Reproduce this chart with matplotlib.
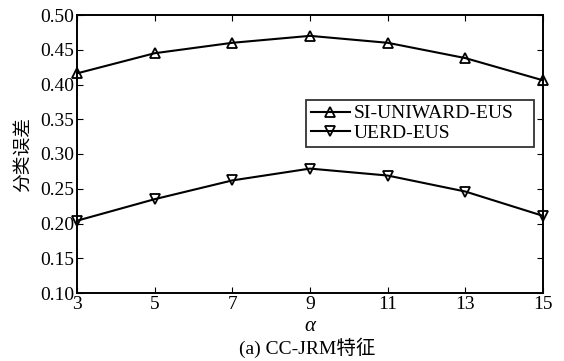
import matplotlib
matplotlib.use("Agg")
import matplotlib.pyplot as plt

# 嵌入率参数 alpha 与两种方法的分类误差
alpha = [3, 5, 7, 9, 11, 13, 15]
si_uniward_eus = [0.416, 0.445, 0.460, 0.470, 0.460, 0.438, 0.406]
uerd_eus = [0.204, 0.235, 0.262, 0.279, 0.269, 0.246, 0.211]
yticks = [0.10, 0.15, 0.20, 0.25, 0.30, 0.35, 0.40, 0.45, 0.50]

plt.rcParams["font.family"] = ["Liberation Serif", "Noto Sans CJK SC"]
plt.rcParams["axes.unicode_minus"] = False

fig = plt.figure(figsize=(5.64, 3.61), dpi=100)
ax = fig.add_axes([77 / 564, 1 - 293 / 361, (543 - 77) / 564, (293 - 15) / 361])

ax.plot(alpha, si_uniward_eus, "k-", marker="^", markersize=7.5, mfc="none",
        mew=1.3, lw=1.5, label="SI-UNIWARD-EUS", clip_on=False)
ax.plot(alpha, uerd_eus, "k-", marker="v", markersize=7.5, mfc="none",
        mew=1.3, lw=1.5, label="UERD-EUS", clip_on=False)

ax.set_xlim(3, 15)
ax.set_ylim(0.10, 0.50)
ax.set_xticks(alpha)
ax.set_yticks(yticks)
ax.set_yticklabels(["%.2f" % v for v in yticks])
ax.tick_params(direction="in", length=4, width=0.8, labelsize=14,
               top=True, right=True, pad=2)
for s in ax.spines.values():
    s.set_linewidth(1.4)

ax.set_ylabel("分类误差", fontsize=13.5, family="Noto Sans CJK SC", labelpad=5)
ax.set_xlabel("α", fontsize=15, style="italic", labelpad=3)

# 图例框: 左 306, 右 534, 上 100 (像素)
lx0 = (306 - 77) / 466
lx1 = (534 - 77) / 466
ly1 = 1 - (100 - 15) / 278
leg = ax.legend(loc="upper left", bbox_to_anchor=(lx0, ly1 - 0.2, lx1 - lx0, 0.2),
                mode="expand", fontsize=14, frameon=True, fancybox=False,
                edgecolor="k", handlelength=2.0, handletextpad=0.2,
                borderpad=0.25, labelspacing=0.1, borderaxespad=0)
leg.get_frame().set_linewidth(1.3)

fig.text(307 / 564, 1 - 348 / 361, "(a) CC-JRM特征", ha="center", va="center",
         fontsize=14)

fig.savefig("out.png", dpi=100, facecolor="white")
